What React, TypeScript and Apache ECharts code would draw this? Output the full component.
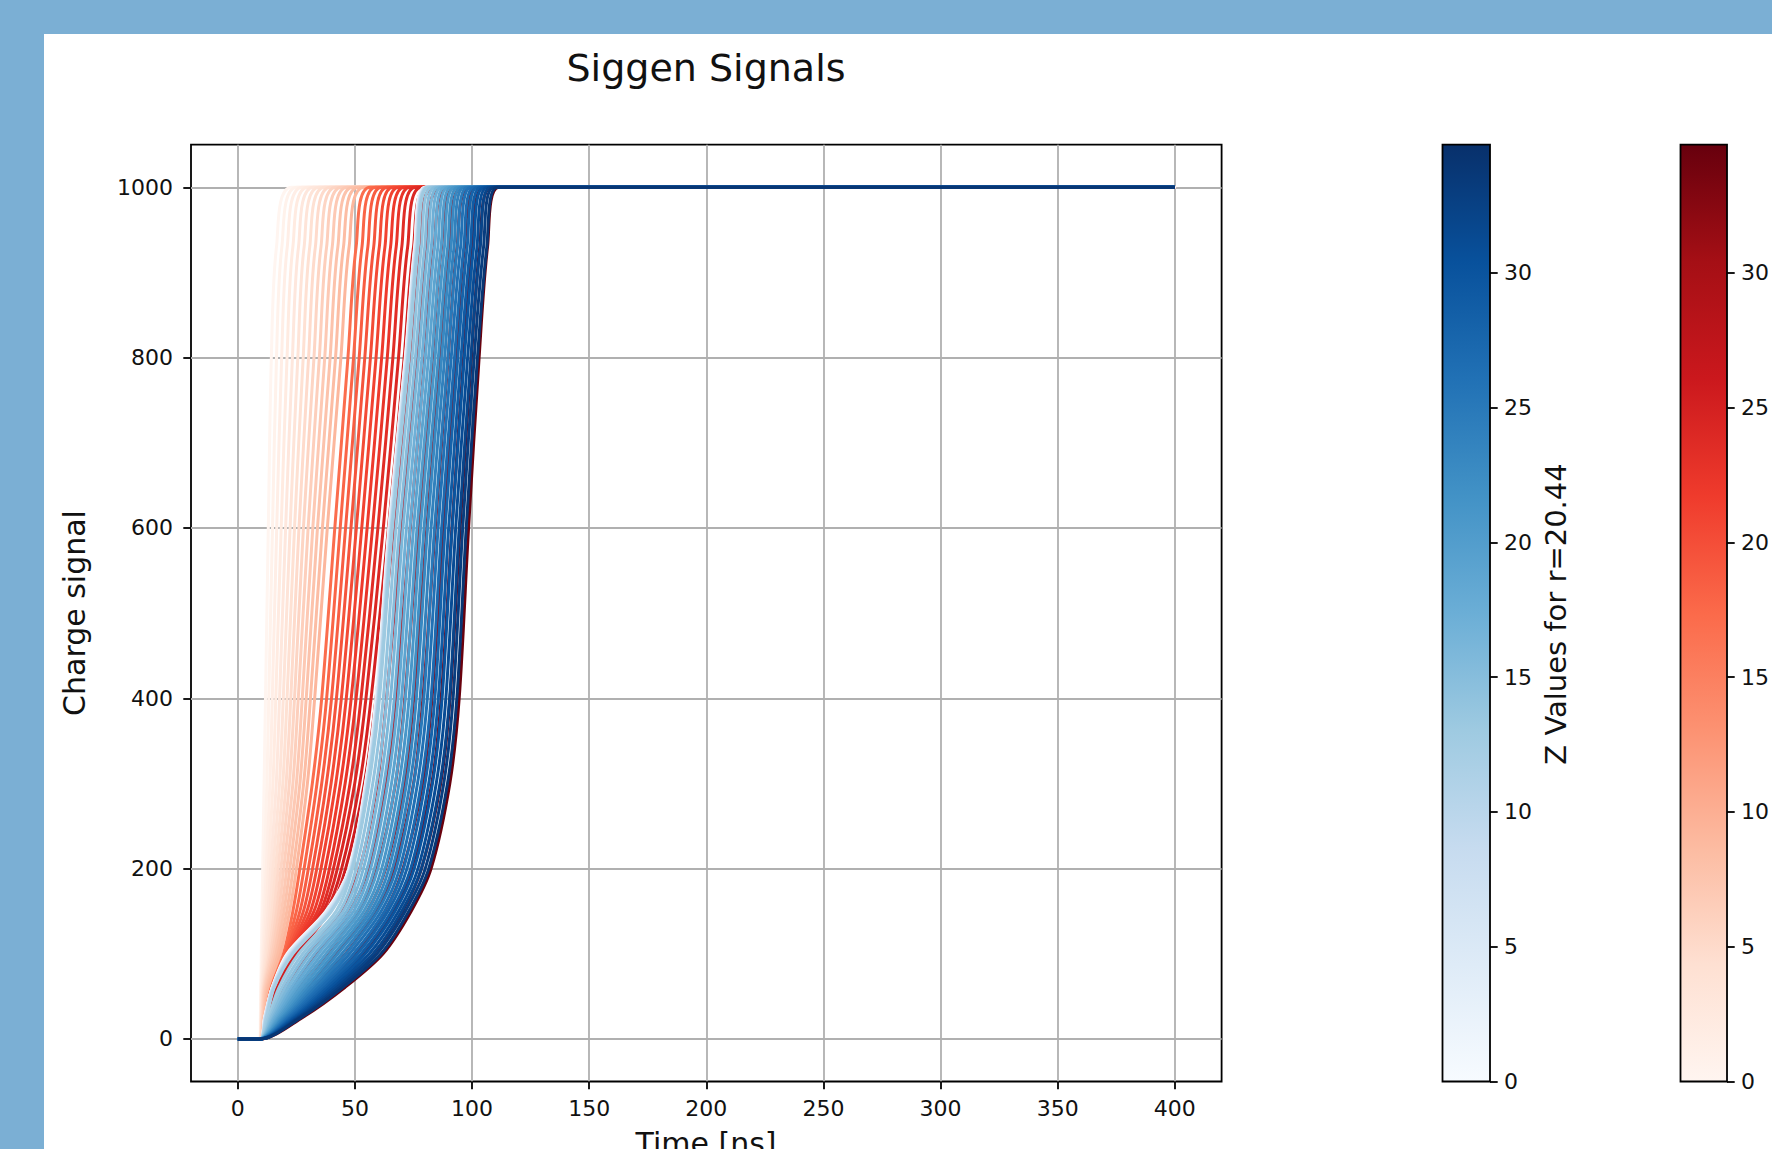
import React, { useEffect, useRef } from "react";
import * as echarts from "echarts";

// ---------- data ----------
// z of each drawn curve
const RED_Z = [0, 0.7, 1.4, 2.1, 2.8, 3.5, 4.2, 4.9, 5.6, 6.3, 7.0, 7.7, 8.4, 9.1, 17.0, 17.8, 18.6, 19.4, 20.2, 21.0, 21.8, 22.6, 23.4, 24.2, 25.0, 25.8, 26.7, 27.7, 28.7, 29.7, 30.6, 31.6, 32.6, 33.6, 34.6];
const BLUE_Z = [0, 1, 2, 3, 4, 5, 6, 7, 8, 9, 10, 11, 12, 13, 14, 15, 16, 17, 18, 19, 20, 21, 22, 23, 24, 25, 26, 27, 28, 29, 30, 31, 32, 33, 34];
const Z_MAX = 34.75;
const T_START = 0;
const T_RISE = 9.5;
const T_END = 400;
const Q_BASE = 0;
const Q_LEVELS = [25, 60, 100, 150, 200, 300, 400, 600, 800, 930, 1000];
const X_TICKS = [0, 50, 100, 150, 200, 250, 300, 350, 400];
const Y_TICKS = [0, 200, 400, 600, 800, 1000];
const CBAR_TICKS = [0, 5, 10, 15, 20, 25, 30];

// time [ns] at which each red curve reaches each charge level
const redT25 = [9.6, 9.7, 9.8, 9.9, 10.0, 10.1, 10.2, 10.3, 10.5, 10.7, 10.9, 11.1, 11.3, 11.5, 11.6, 11.7, 11.8, 11.9, 12.0, 12.1, 12.2, 12.3, 12.4, 12.5, 12.6, 12.8, 14.0, 15.6, 17.2, 18.8, 20.5, 22.2, 23.9, 25.7, 27.5];
const redT60 = [9.8, 9.9, 10.0, 10.2, 10.4, 10.6, 10.8, 11.0, 11.3, 11.6, 12.0, 12.4, 12.9, 13.4, 14.2, 14.4, 14.6, 14.8, 15.0, 15.3, 15.6, 15.9, 16.2, 16.5, 16.8, 17.0, 20.0, 23.1, 26.2, 29.3, 32.4, 35.5, 38.8, 42.1, 45.5];
const redT100 = [10.0, 10.3, 10.7, 11.1, 11.6, 12.1, 12.7, 13.3, 14.0, 14.7, 15.5, 16.3, 17.2, 18.2, 19.5, 20.0, 20.5, 21.0, 21.5, 22.0, 22.5, 23.0, 23.6, 24.2, 24.8, 25.5, 30.0, 34.0, 38.0, 42.0, 46.0, 50.0, 54.0, 58.0, 62.0];
const redT150 = [10.3, 10.8, 11.4, 12.1, 12.9, 13.7, 14.6, 15.5, 16.5, 17.5, 18.6, 19.7, 20.9, 22.1, 23.5, 25.0, 26.5, 28.0, 29.5, 31.0, 32.5, 34.0, 35.3, 36.5, 37.8, 39.0, 44.0, 47.8, 51.5, 55.3, 59.0, 62.8, 66.5, 70.3, 74.0];
const redT200 = [10.6, 11.3, 12.1, 13.0, 14.0, 15.0, 16.1, 17.2, 18.4, 19.6, 20.9, 22.2, 23.6, 25.0, 26.5, 28.3, 30.1, 31.9, 33.7, 35.5, 37.3, 39.1, 40.8, 42.5, 44.3, 46.0, 52.0, 55.7, 59.4, 63.1, 66.8, 70.5, 74.2, 78.4, 82.5];
const redT300 = [11.2, 12.4, 13.7, 15.0, 16.4, 17.8, 19.2, 20.6, 22.0, 23.5, 25.0, 26.5, 28.1, 29.7, 31.8, 33.8, 35.8, 37.8, 39.8, 41.8, 43.8, 45.8, 47.9, 49.9, 52.0, 54.0, 59.5, 63.4, 67.3, 71.1, 75.0, 78.9, 82.8, 86.6, 90.5];
const redT400 = [11.8, 13.2, 14.7, 16.2, 17.8, 19.4, 21.0, 22.6, 24.2, 25.8, 27.5, 29.2, 31.0, 32.8, 35.8, 37.9, 40.0, 42.1, 44.2, 46.3, 48.4, 50.5, 52.6, 54.7, 56.9, 59.0, 63.5, 67.4, 71.3, 75.1, 79.0, 82.9, 86.8, 90.6, 94.5];
const redT600 = [13.0, 14.8, 16.6, 18.5, 20.4, 22.3, 24.2, 26.1, 28.0, 30.0, 32.0, 34.0, 36.1, 38.2, 41.4, 43.7, 46.0, 48.3, 50.6, 52.9, 55.2, 57.5, 59.8, 62.1, 64.3, 66.5, 70.0, 73.6, 77.1, 80.7, 84.3, 87.8, 91.4, 94.9, 98.5];
const redT800 = [14.3, 16.5, 18.7, 21.0, 23.3, 25.6, 27.9, 30.2, 32.5, 34.8, 37.1, 39.4, 41.7, 44.0, 47.0, 49.4, 51.8, 54.2, 56.6, 59.0, 61.4, 63.8, 66.2, 68.6, 71.0, 73.5, 76.5, 79.8, 83.1, 86.4, 89.8, 93.1, 96.4, 99.7, 103.0];
const redT930 = [16.5, 18.8, 21.1, 23.5, 25.9, 28.3, 30.7, 33.1, 35.5, 37.9, 40.3, 42.7, 45.1, 47.5, 50.5, 53.0, 55.5, 58.0, 60.4, 62.8, 65.2, 67.6, 70.0, 72.5, 75.0, 77.5, 80.5, 83.8, 87.0, 90.3, 93.6, 96.8, 100.1, 103.3, 106.6];
const redT1000 = [23.0, 25.3, 27.6, 30.0, 32.4, 34.8, 37.2, 39.6, 42.0, 44.4, 46.8, 49.2, 51.6, 54.0, 56.5, 59.0, 61.5, 64.0, 66.4, 68.8, 71.2, 73.6, 76.0, 78.5, 81.0, 84.0, 87.0, 90.0, 93.1, 96.1, 99.2, 102.2, 105.3, 108.4, 111.5];

// time [ns] at which each blue curve (r = 20.44) reaches each charge level
const blueT25 = [11.4, 11.45, 11.5, 11.55, 11.6, 11.65, 11.7, 11.75, 11.8, 11.9, 12.0, 12.1, 12.25, 13.0, 13.7, 14.3, 15.0, 15.6, 16.3, 17.0, 17.6, 18.3, 19.0, 19.6, 20.3, 20.9, 21.6, 22.3, 22.9, 23.6, 24.2, 24.9, 25.6, 26.2, 26.9];
const blueT60 = [14.6, 14.65, 14.7, 14.75, 14.8, 14.85, 14.9, 14.95, 15.0, 15.1, 15.2, 15.3, 15.45, 17.5, 18.8, 20.1, 21.4, 22.7, 23.9, 25.2, 26.5, 27.8, 29.1, 30.4, 31.7, 33.0, 34.3, 35.6, 36.9, 38.1, 39.4, 40.7, 42.0, 43.3, 44.6];
const blueT100 = [21.0, 21.2, 21.4, 21.6, 21.8, 22.0, 22.2, 22.4, 22.6, 22.8, 23.0, 23.2, 23.5, 26.0, 27.7, 29.3, 31.0, 32.7, 34.4, 36.0, 37.7, 39.4, 41.0, 42.7, 44.4, 46.1, 47.7, 49.4, 51.1, 52.7, 54.4, 56.1, 57.8, 59.4, 61.1];
const blueT150 = [37.6, 37.8, 38.0, 38.2, 38.4, 38.6, 38.8, 39.0, 39.2, 39.4, 39.6, 39.8, 40.0, 42.0, 43.5, 45.0, 46.4, 47.9, 49.4, 50.9, 52.3, 53.8, 55.3, 56.8, 58.2, 59.7, 61.2, 62.7, 64.1, 65.6, 67.1, 68.6, 70.0, 71.5, 73.0];
const blueT200 = [47.5, 47.6, 47.7, 47.8, 47.9, 48.0, 48.1, 48.2, 48.3, 48.4, 48.5, 48.6, 48.7, 49.0, 50.5, 52.1, 53.6, 55.2, 56.7, 58.3, 59.8, 61.4, 62.9, 64.5, 66.0, 67.6, 69.1, 70.7, 72.2, 73.8, 75.3, 76.9, 78.4, 80.0, 81.5];
const blueT300 = [54.5, 54.6, 54.7, 54.8, 54.9, 55.0, 55.1, 55.2, 55.3, 55.4, 55.5, 55.6, 55.7, 56.0, 57.6, 59.2, 60.8, 62.4, 64.0, 65.6, 67.2, 68.8, 70.4, 72.0, 73.5, 75.1, 76.7, 78.3, 79.9, 81.5, 83.1, 84.7, 86.3, 87.9, 89.5];
const blueT400 = [59.0, 59.1, 59.2, 59.3, 59.4, 59.5, 59.6, 59.7, 59.8, 59.9, 60.0, 60.1, 60.2, 60.5, 62.1, 63.6, 65.2, 66.8, 68.4, 69.9, 71.5, 73.1, 74.6, 76.2, 77.8, 79.4, 80.9, 82.5, 84.1, 85.6, 87.2, 88.8, 90.4, 91.9, 93.5];
const blueT600 = [64.5, 64.6, 64.7, 64.8, 64.9, 65.0, 65.1, 65.2, 65.3, 65.4, 65.5, 65.6, 65.7, 66.0, 67.5, 69.0, 70.5, 72.0, 73.5, 75.0, 76.5, 78.0, 79.5, 81.0, 82.5, 84.0, 85.5, 87.0, 88.5, 90.0, 91.5, 93.0, 94.5, 96.0, 97.5];
const blueT800 = [71.5, 71.6, 71.7, 71.8, 71.9, 72.0, 72.1, 72.2, 72.3, 72.4, 72.5, 72.6, 72.7, 73.0, 74.4, 75.8, 77.2, 78.6, 80.0, 81.4, 82.8, 84.2, 85.6, 87.0, 88.3, 89.7, 91.1, 92.5, 93.9, 95.3, 96.7, 98.1, 99.5, 100.9, 102.3];
const blueT930 = [75.5, 75.6, 75.7, 75.8, 75.9, 76.0, 76.1, 76.2, 76.3, 76.4, 76.5, 76.6, 76.7, 77.0, 78.4, 79.8, 81.2, 82.6, 84.0, 85.4, 86.8, 88.2, 89.6, 91.0, 92.3, 93.7, 95.1, 96.5, 97.9, 99.3, 100.7, 102.1, 103.5, 104.9, 106.3];
const blueT1000 = [80.0, 80.1, 80.2, 80.3, 80.4, 80.5, 80.6, 80.7, 80.8, 80.9, 81.0, 81.1, 81.2, 81.5, 82.9, 84.3, 85.7, 87.1, 88.5, 89.9, 91.3, 92.7, 94.1, 95.5, 96.8, 98.2, 99.6, 101.0, 102.4, 103.8, 105.2, 106.6, 108.0, 109.4, 110.8];

// ---------- styles ----------
const BLUES = ["#f7fbff", "#deebf7", "#c6dbef", "#9ecae1", "#6baed6", "#4292c6", "#2171b5", "#08519c", "#08306b"];
const REDS = ["#fff5f0", "#fee0d2", "#fcbba1", "#fc9272", "#fb6a4a", "#ef3b2c", "#cb181d", "#a50f15", "#67000d"];
const FONT = "DejaVu Sans";
const TEXT = "#111111";

function hexRgb(h: string): number[] {
  return [parseInt(h.slice(1, 3), 16), parseInt(h.slice(3, 5), 16), parseInt(h.slice(5, 7), 16)];
}
function cmap(stops: string[], v: number): string {
  const c = Math.max(0, Math.min(1, v));
  const p = c * (stops.length - 1);
  const i = Math.min(stops.length - 2, Math.floor(p));
  const f = p - i;
  const a = hexRgb(stops[i]);
  const b = hexRgb(stops[i + 1]);
  const m = a.map((x, k) => Math.round(x + (b[k] - x) * f));
  return `rgb(${m[0]},${m[1]},${m[2]})`;
}

const redTables = [redT25, redT60, redT100, redT150, redT200, redT300, redT400, redT600, redT800, redT930, redT1000];
const blueTables = [blueT25, blueT60, blueT100, blueT150, blueT200, blueT300, blueT400, blueT600, blueT800, blueT930, blueT1000];

function curve(tables: number[][], i: number): number[][] {
  const pts: number[][] = [[T_START, Q_BASE], [T_RISE, Q_BASE]];
  Q_LEVELS.forEach((q, k) => pts.push([tables[k][i], q]));
  pts.push([T_END, Q_LEVELS[Q_LEVELS.length - 1]]);
  return pts;
}

function lineSeries(zs: number[], tables: number[][], stops: string[], prefix: string) {
  return zs.map((z, i) => ({
    name: `${prefix} z=${z}`,
    type: "line",
    xAxisIndex: 0,
    yAxisIndex: 0,
    data: curve(tables, i),
    showSymbol: false,
    symbol: "none",
    smooth: 0.3,
    silent: true,
    emphasis: { disabled: true },
    lineStyle: { width: 3, color: cmap(stops, z / Z_MAX) },
    z: 3,
  }));
}

function gradient(stops: string[]) {
  return new echarts.graphic.LinearGradient(
    0, 1, 0, 0,
    stops.map((c, i) => ({ offset: i / (stops.length - 1), color: c }))
  );
}

const tickLabel = { fontFamily: FONT, fontSize: 22, color: TEXT };
const tickStyle = { color: "#000", width: 1.8 };

const PLOT = { left: 191, top: 144.7, width: 1030.6, height: 936.8 };
const CB1 = { left: 1442.5, top: 144.7, width: 47.5, height: 936.8 };
const CB2 = { left: 1680.5, top: 144.7, width: 47.5, height: 936.8 };

function cbarY(gridIndex: number) {
  return {
    gridIndex,
    type: "value",
    position: "right",
    min: 0,
    max: Z_MAX,
    axisLine: { show: false, onZero: false },
    axisTick: { show: true, inside: false, length: 7.7, lineStyle: tickStyle, customValues: CBAR_TICKS },
    axisLabel: { ...tickLabel, margin: 14, customValues: CBAR_TICKS },
    splitLine: { show: false },
  };
}

function cbarSeries(idx: number, stops: string[]) {
  return {
    type: "line",
    xAxisIndex: idx,
    yAxisIndex: idx,
    data: [[0, Z_MAX], [1, Z_MAX]],
    symbol: "none",
    showSymbol: false,
    silent: true,
    lineStyle: { width: 0 },
    areaStyle: { color: gradient(stops), opacity: 1 },
    z: -1,
  };
}

export default function App() {
  const ref = useRef<HTMLDivElement>(null);
  useEffect(() => {
    if (!ref.current) return;
    const chart = echarts.init(ref.current, undefined, { renderer: "svg" });
    chart.setOption({
      animation: false,
      grid: [
        { ...PLOT, show: true, borderColor: "#000", borderWidth: 1.8, backgroundColor: "transparent" },
        { ...CB1, show: true, borderColor: "#000", borderWidth: 1.8, backgroundColor: "transparent" },
        { ...CB2, show: true, borderColor: "#000", borderWidth: 1.8, backgroundColor: "transparent" },
      ],
      xAxis: [
        {
          gridIndex: 0,
          type: "value",
          position: "bottom",
          min: -20,
          max: 420,
          axisLine: { show: false, onZero: false },
          axisTick: { show: true, inside: false, length: 7.7, lineStyle: tickStyle, customValues: X_TICKS },
          axisLabel: { ...tickLabel, margin: 16, customValues: X_TICKS, formatter: (v: number) => String(v) },
          splitLine: { show: true, lineStyle: { color: "#b0b0b0", width: 1.8 } },
        },
        { gridIndex: 1, type: "value", min: 0, max: 1, show: false, axisLine: { onZero: false } },
        { gridIndex: 2, type: "value", min: 0, max: 1, show: false, axisLine: { onZero: false } },
      ],
      yAxis: [
        {
          gridIndex: 0,
          type: "value",
          position: "left",
          min: -50,
          max: 1050,
          axisLine: { show: false, onZero: false },
          axisTick: { show: true, inside: false, length: 7.7, lineStyle: tickStyle, customValues: Y_TICKS },
          axisLabel: { ...tickLabel, margin: 18, customValues: Y_TICKS, formatter: (v: number) => String(v) },
          splitLine: { show: true, lineStyle: { color: "#b0b0b0", width: 1.8 } },
        },
        cbarY(1),
        cbarY(2),
      ],
      graphic: [
        { type: "text", x: 706, y: 68, silent: true, style: { text: "Siggen Signals", fontFamily: FONT, fontSize: 38, fill: TEXT, align: "center", verticalAlign: "middle" } },
        { type: "text", x: 74, y: 613, rotation: Math.PI / 2, silent: true, style: { text: "Charge signal", fontFamily: FONT, fontSize: 30, fill: TEXT, align: "center", verticalAlign: "middle" } },
        { type: "text", x: 706, y: 1143, silent: true, style: { text: "Time [ns]", fontFamily: FONT, fontSize: 30, fill: TEXT, align: "center", verticalAlign: "middle" } },
        { type: "text", x: 1556, y: 614, rotation: Math.PI / 2, silent: true, style: { text: "Z Values for r=20.44", fontFamily: FONT, fontSize: 29, fill: TEXT, align: "center", verticalAlign: "middle" } },
      ],
      series: [
        ...lineSeries(RED_Z, redTables, REDS, "red"),
        ...lineSeries(BLUE_Z, blueTables, BLUES, "blue"),
        cbarSeries(1, BLUES),
        cbarSeries(2, REDS),
      ],
    });
    return () => chart.dispose();
  }, []);

  return (
    <div style={{ position: "fixed", left: 0, top: 0, width: 1772, height: 1149, background: "#7bafd4", overflow: "hidden" }}>
      <div style={{ position: "absolute", left: 44, top: 34, right: 0, bottom: 0, background: "#ffffff" }} />
      <div ref={ref} style={{ position: "absolute", left: 0, top: 0, width: 1772, height: 1149 }} />
    </div>
  );
}
